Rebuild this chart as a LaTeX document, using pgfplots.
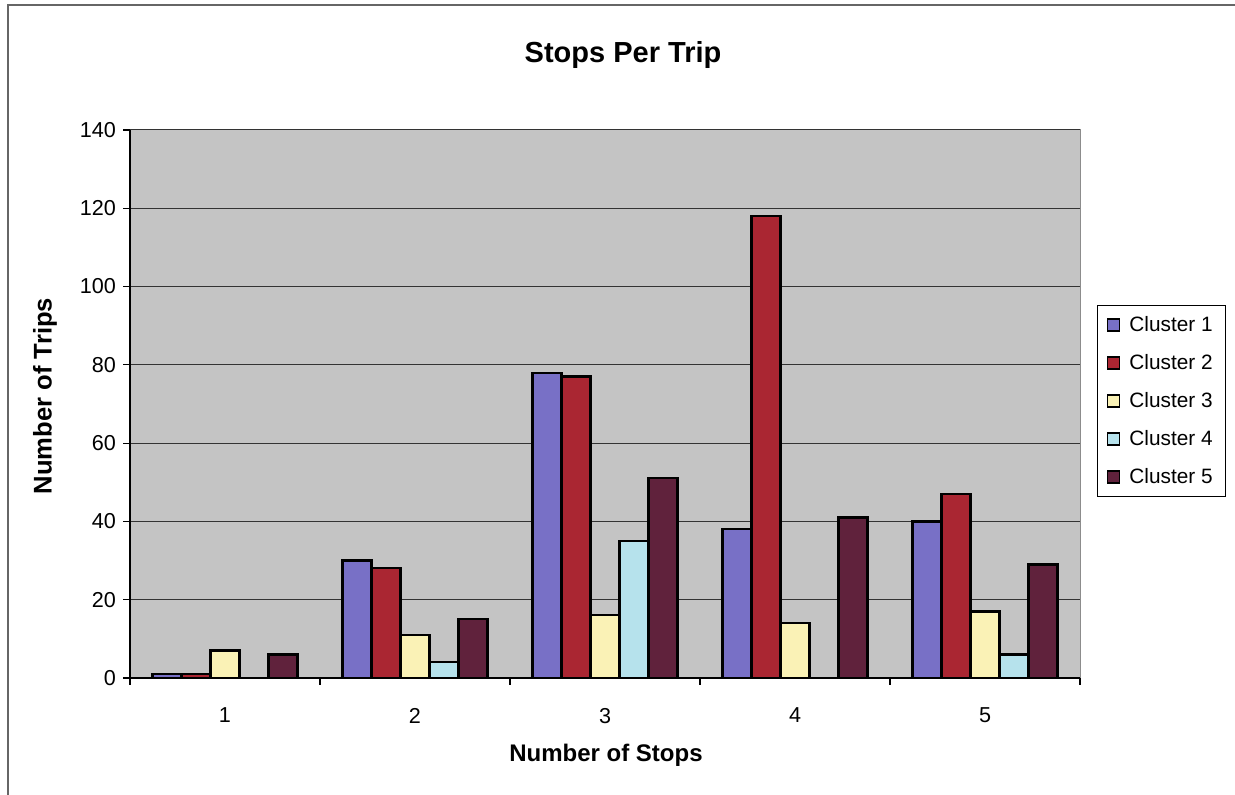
\documentclass[border=0pt]{standalone}
\usepackage{pgfplots}
\pgfplotsset{compat=1.18}
\usepackage{fontspec}
\setmainfont{Liberation Sans}

\definecolor{plotbg}{RGB}{196,196,196}
\definecolor{clA}{RGB}{120,112,198}
\definecolor{clB}{RGB}{170,38,50}
\definecolor{clC}{RGB}{250,242,182}
\definecolor{clD}{RGB}{182,226,236}
\definecolor{clE}{RGB}{96,34,60}

\begin{document}
\begin{tikzpicture}
% page area and the chart frame
\path[use as bounding box] (0pt,0pt) rectangle (617.5pt,397.5pt);
\draw[black!60, line width=0.7pt] (4pt,0pt) -- (4pt,395pt) -- (617.5pt,395pt);

\begin{axis}[
  at={(65pt,58.5pt)}, anchor=south west,
  scale only axis, width=475pt, height=274pt,
  xmin=0.5, xmax=5.5, ymin=0, ymax=140,
  ytick={0,20,...,140},
  xtick={1,...,5},
  minor xtick={0.5,1.5,...,5.5},
  major x tick style={draw=none},
  tick align=outside,
  major tick length=3.5pt, minor tick length=3.5pt,
  axis lines*=left,
  axis line style={-, black, line width=0.6pt},
  tick style={black, line width=0.6pt},
  axis background/.style={fill=plotbg, draw=black!45, line width=0.5pt},
  ymajorgrids,
  grid style={black!80, line width=0.5pt},
  /pgf/number format/assume math mode=true,
  ticklabel style={font=\fontsize{10.8}{13}\selectfont},
  xticklabel style={yshift=-8pt},
  ybar=0pt, bar width=14.5pt,
  every axis plot/.append style={draw=black, line width=1.1pt},
  every axis plot post/.append style={
    legend image code/.code={\draw[##1, draw=black, line width=0.9pt] (1pt,-3pt) rectangle (7pt,3pt);}},
  legend style={at={(1.018,0.505)}, anchor=west, draw=black, fill=white,
    line width=0.5pt, inner xsep=4.5pt, inner ysep=2.75pt, row sep=5pt,
    font=\fontsize{10.4}{12}\selectfont,
    nodes={inner sep=2pt, text height=8pt, text depth=2pt},
    /tikz/every odd column/.append style={column sep=2.5pt}},
  legend cell align=left,
]
\addplot[fill=clA, draw=black] coordinates {(1,1) (2,30) (3,78) (4,38) (5,40)};
\addplot[fill=clB, draw=black] coordinates {(1,1) (2,28) (3,77) (4,118) (5,47)};
\addplot[fill=clC, draw=black] coordinates {(1,7) (2,11) (3,16) (4,14) (5,17)};
\addplot[fill=clD, draw=black] coordinates {(2,4) (3,35) (5,6)};
\addplot[fill=clE, draw=black] coordinates {(1,6) (2,15) (3,51) (4,41) (5,29)};
\legend{Cluster 1, Cluster 2, Cluster 3, Cluster 4, Cluster 5}
\end{axis}

% titles
\node[font=\bfseries\fontsize{14.5}{17}\selectfont] at (311.5pt,370pt) {Stops Per Trip};
\node[font=\bfseries\fontsize{12}{14}\selectfont] at (303pt,20pt) {Number of Stops};
\node[font=\bfseries\fontsize{12.8}{15}\selectfont, rotate=90] at (22.5pt,199.5pt) {Number of Trips};
\end{tikzpicture}
\end{document}
